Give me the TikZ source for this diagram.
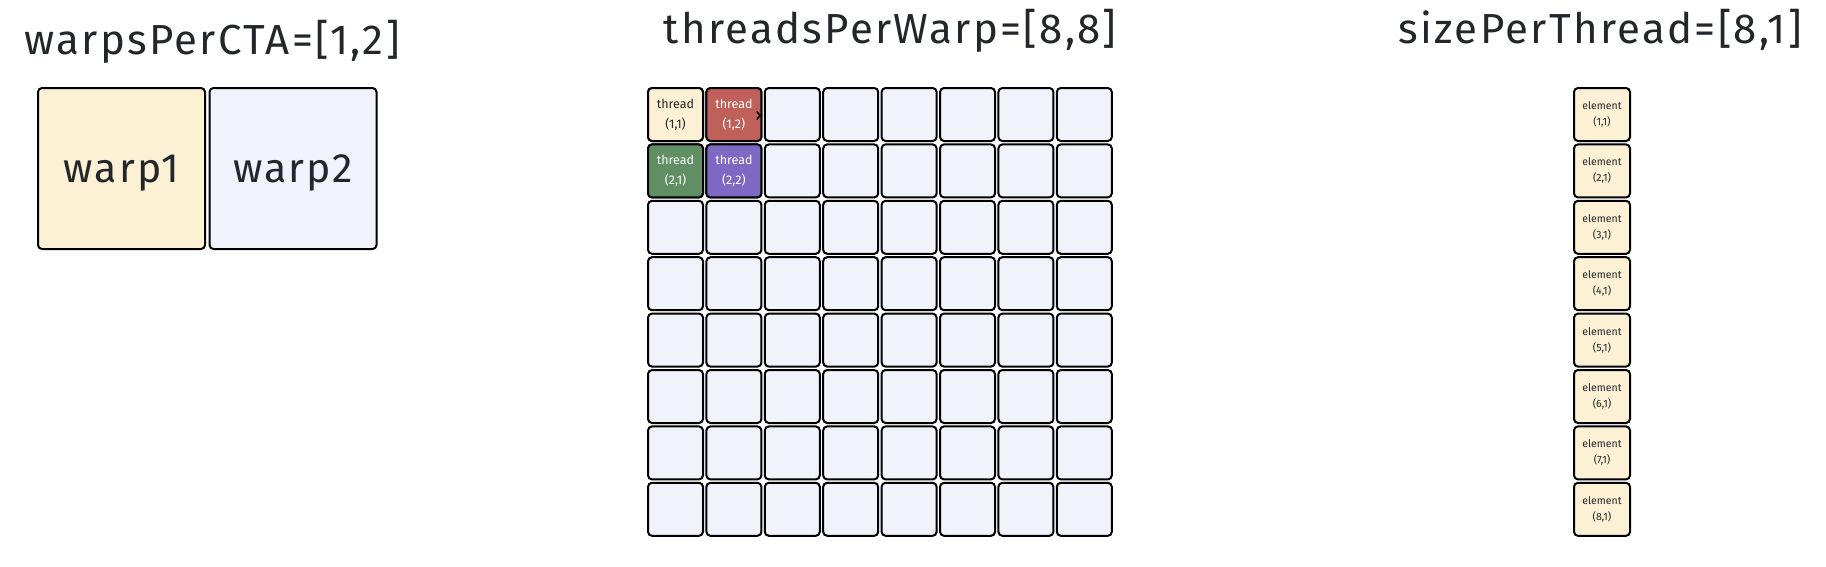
\documentclass[tikz,border=0pt]{standalone}
\usepackage{fontspec}
\setmainfont{Fira Sans}
\newfontfamily\widefont[LetterSpace=5.5]{Fira Sans}
\usetikzlibrary{arrows.meta}
\definecolor{cream}{HTML}{FCF1D4}
\definecolor{paleblue}{HTML}{F0F3FA}
\definecolor{cellred}{HTML}{C0605A}
\definecolor{cellgreen}{HTML}{5F8F63}
\definecolor{cellpurple}{HTML}{7D69C3}
\definecolor{ink}{HTML}{23262B}
\tikzset{
  box/.style={draw=black,line width=2pt,rounded corners=4pt,align=center,text=ink},
  warpbox/.style={box,minimum width=167pt,minimum height=161pt,text depth=0pt,font=\widefont\fontsize{41}{46}\selectfont},
  cell/.style={box,fill=paleblue,minimum width=55pt,minimum height=53pt,inner sep=0pt,font=\fontsize{12.5}{20}\selectfont},
  elem/.style={box,fill=cream,minimum width=56pt,minimum height=53pt,inner sep=0pt,font=\fontsize{10.5}{16}\selectfont},
  title/.style={anchor=base,text=ink,font=\widefont\fontsize{42}{48}\selectfont},
}
\begin{document}
\begin{tikzpicture}[x=1pt,y=-1pt]
\useasboundingbox[fill=white] (0,0) rectangle (1826,566);

% warps
\node[title] (ttlwarp) at (212,54) {warpsPerCTA=[1,2]};
\node[warpbox,fill=cream] (warp1) at (121.5,168.5) {warp1};
\node[warpbox,fill=paleblue] (warp2) at (293,168.5) {warp2};

% threads
\node[title] (ttlthread) at (890,43) {threadsPerWarp=[8,8]};
\foreach \i in {1,...,8}{
  \foreach \j in {1,...,8}{
    \node[cell] (c\i\j) at ({675.5+58.4*(\j-1)},{114.5+56.4*(\i-1)}) {};
  }
}
\node[cell,fill=cream] (t11) at (c11) {thread\\(1,1)};
\node[cell,fill=cellred,text=white] (t12) at (c12) {thread\\(1,2)};
\node[cell,fill=cellgreen,text=white] (t21) at (c21) {thread\\(2,1)};
\node[cell,fill=cellpurple,text=white] (t22) at (c22) {thread\\(2,2)};
\draw[-{>[length=6pt,width=9pt]},line width=1.5pt,shorten <=85pt] (t11.center) -- ([yshift=-1pt]t12.east);

% elements
\node[title] (ttlsize) at (1600,43) {sizePerThread=[8,1]};
\foreach \i in {1,...,8}{
  \node[elem] (e\i) at (1602,{114.5+56.4*(\i-1)}) {element\\(\i,1)};
}
\end{tikzpicture}
\end{document}
